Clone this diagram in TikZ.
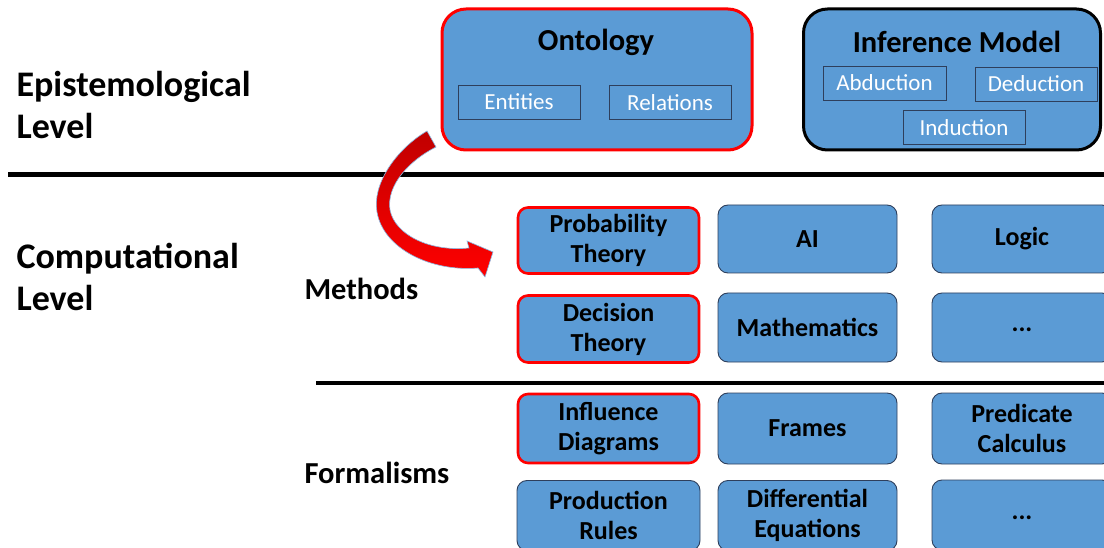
\documentclass[tikz,border=0pt]{standalone}
\usepackage{fontspec}
\setmainfont{Carlito}
\definecolor{boxblue}{HTML}{5B9BD5}
\definecolor{boxedge}{HTML}{41719C}
\definecolor{inneredge}{HTML}{2E3F5C}
\definecolor{arrowdark}{HTML}{C00000}
\definecolor{arrowred}{HTML}{FF0000}
\tikzset{
  every picture/.style={x=1pt,y=-1pt},
  cell/.style={rectangle, rounded corners=10pt, fill=boxblue, draw=inneredge, line width=0.9pt,
    font=\bfseries\fontsize{26}{30}\selectfont, align=center, inner sep=0pt},
  redcell/.style={cell, draw=arrowred, line width=2.6pt},
  dotcell/.style={cell, text height=9pt, text depth=0pt},
  bigbox/.style={rectangle, rounded corners=24pt, fill=boxblue, line width=3pt, inner sep=0pt},
  subbox/.style={rectangle, draw=inneredge, line width=0.9pt, fill=boxblue, text=white,
    font=\fontsize{23}{26}\selectfont, inner sep=0pt, minimum height=34pt},
  title/.style={font=\bfseries\fontsize{30.5}{34}\selectfont, anchor=center},
  level/.style={font=\bfseries\fontsize{36}{42}\selectfont, align=left, anchor=west},
  sublabel/.style={font=\bfseries\fontsize{30.5}{34}\selectfont, anchor=west},
  rule/.style={line width=5pt, black}
}
\begin{document}
\begin{tikzpicture}
\useasboundingbox (0,0) rectangle (1104,548);
\clip (0,0) rectangle (1104,548);
% level labels
\node[level] (epi) at (13,105) {Epistemological\\Level};
\node[level] (comp) at (13,277) {Computational\\Level};
% rules
\coordinate (r1a) at (8,175); \coordinate (r1b) at (1110,175);
\draw[rule] (r1a) -- (r1b);
\coordinate (r2a) at (316,383); \coordinate (r2b) at (1110,383);
\draw[rule, line width=4pt] (r2a) -- (r2b);
% ontology
\node[bigbox, draw=arrowred, minimum width=310pt, minimum height=141pt] (onto) at (597,79.5) {};
\node[title] (ontot) at (596,42) {Ontology};
\node[subbox, minimum width=122pt] (ent) at (519,102) {Entities};
\node[subbox, minimum width=122pt] (rel) at (670,102.5) {Relations};
% inference model
\node[bigbox, draw=black, minimum width=297pt, minimum height=141pt] (inf) at (952,79.5) {};
\node[title] (inft) at (957,42) {Inference Model};
\node[subbox, minimum width=123pt] (abd) at (884.5,83) {Abduction};
\node[subbox, minimum width=122pt] (ded) at (1036,84) {Deduction};
\node[subbox, minimum width=122pt] (ind) at (964,127.5) {Induction};
% methods
\node[sublabel] (meth) at (301,289) {Methods};
\node[redcell, minimum width=181pt, minimum height=66pt] (prob) at (608.5,240.5) {Probability\\Theory};
\node[cell, minimum width=179pt, minimum height=68pt] (ai) at (807.5,239) {AI};
\node[cell, minimum width=180pt, minimum height=68pt] (logic) at (1022,239) {Logic};
\node[redcell, minimum width=181pt, minimum height=67pt] (dec) at (608.5,329) {Decision\\Theory};
\node[cell, minimum width=179pt, minimum height=69pt] (math) at (807.5,327.5) {Mathematics};
\node[dotcell, minimum width=180pt, minimum height=69pt] (mdots) at (1022,327.5) {...};
% formalisms
\node[sublabel] (form) at (301,473) {Formalisms};
\node[redcell, minimum width=181pt, minimum height=69pt] (infl) at (608.5,428.5) {Influence\\Diagrams};
\node[cell, minimum width=179pt, minimum height=71pt] (frames) at (807.5,428.5) {Frames};
\node[cell, minimum width=180pt, minimum height=71pt] (pred) at (1022,428.5) {Predicate\\Calculus};
\node[cell, minimum width=183pt, minimum height=70pt] (prod) at (608.5,515.5) {Production\\Rules};
\node[cell, minimum width=179pt, minimum height=70pt] (diff) at (807.5,515.5) {Differential\\Equations};
\node[dotcell, minimum width=180pt, minimum height=70pt] (fdots) at (1022,515) {...};
% curved arrow
\coordinate (a1) at (427,131);
\coordinate (a2) at (478,268);
\coordinate (a3) at (485,277);
\coordinate (tip) at (493,252);
\coordinate (a4) at (467,241);
\coordinate (a5) at (469,248);
\coordinate (a6) at (436,147);
\draw[draw=boxblue!70, line width=0.6pt, top color=arrowdark, middle color=arrowdark, bottom color=arrowred]
  (a1) .. controls (395,150) and (372,185) .. (377,212)
       .. controls (383,248) and (430,272) .. (a2)
  -- (a3) -- (tip) -- (a4) -- (a5)
  .. controls (430,252) and (395,235) .. (390,210)
  .. controls (386,185) and (410,160) .. (a6) -- cycle;
\end{tikzpicture}
\end{document}
